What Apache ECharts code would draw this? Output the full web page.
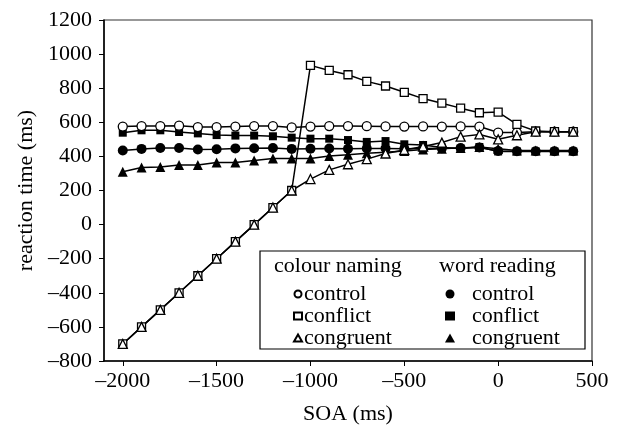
<!DOCTYPE html>
<html>
<head>
<meta charset="utf-8">
<script src="https://cdn.jsdelivr.net/npm/echarts@6/dist/echarts.min.js"></script>
<style>
html, body { margin: 0; padding: 0; background: #fff; }
#chart { width: 623px; height: 430px; }
</style>
</head>
<body>
<div id="chart"></div>
<script>
// SOA values (ms)
var soa = [-2000, -1900, -1800, -1700, -1600, -1500, -1400, -1300, -1200, -1100,
    -1000, -900, -800, -700, -600, -500, -400, -300, -200, -100, 0, 100, 200, 300, 400];

// colour naming
var cnControl = [575, 578, 578, 580, 572, 572, 575, 578, 578, 570,
    575, 578, 578, 577, 576, 575, 576, 575, 576, 575, 540, 540, 545, 545, 545];
var cnConflict = [-700, -600, -500, -400, -300, -200, -100, 0, 100, 200,
    934, 904, 879, 840, 813, 776, 739, 712, 683, 656, 660, 588, 549, 545, 545];
var cnCongruent = [-700, -600, -500, -400, -300, -200, -100, 0, 100, 200,
    267, 321, 354, 384, 417, 438, 458, 481, 516, 529, 500, 524, 545, 545, 545];

// word reading
var wrControl = [435, 444, 449, 449, 440, 442, 447, 448, 449, 444,
    445, 446, 445, 446, 447, 445, 447, 448, 449, 452, 432, 430, 430, 430, 430];
var wrConflict = [539, 553, 553, 543, 535, 525, 522, 522, 518, 510,
    504, 504, 496, 485, 490, 471, 467, 452, 446, 455, 429, 429, 429, 429, 429];
var wrCongruent = [310, 335, 338, 349, 349, 364, 364, 376, 388, 388,
    388, 403, 410, 418, 425, 432, 440, 445, 450, 455, 445, 435, 435, 435, 435];

var xTicks = [-2000, -1500, -1000, -500, 0, 500];

var font = 'Liberation Serif';
var fs = 22;

function pairs(ys) {
    return soa.map(function (x, i) { return [x, ys[i]]; });
}
function dash(v) {
    return String(v).replace('-', '\u2013');
}
function mk(name, data, symbol, size, filled) {
    return {
        name: name,
        type: 'line',
        data: pairs(data),
        symbol: symbol,
        symbolSize: size,
        showAllSymbol: true,
        lineStyle: { color: '#000', width: 1.5 },
        itemStyle: {
            color: filled ? '#000' : '#fff',
            borderColor: '#000',
            borderWidth: filled ? 0 : 1.3
        },
        emphasis: { disabled: true },
        animation: false
    };
}

var chart = echarts.init(document.getElementById('chart'));
var option = {
    backgroundColor: '#fff',
    animation: false,
    grid: {
        left: 104, right: 31, top: 20, bottom: 67,
        show: true, borderColor: '#333', borderWidth: 1.2
    },
    xAxis: {
        type: 'value',
        min: -2100,
        max: 500,
        name: 'SOA (ms)',
        nameLocation: 'middle',
        nameGap: 42,
        nameTextStyle: { fontFamily: font, fontSize: fs, color: '#000' },
        axisLine: { onZero: false, lineStyle: { color: '#000', width: 1.5 } },
        axisTick: { show: true, customValues: xTicks, length: 5, lineStyle: { color: '#000' } },
        axisLabel: {
            customValues: xTicks,
            margin: 9,
            fontFamily: font, fontSize: fs, color: '#000',
            formatter: dash
        },
        splitLine: { show: false }
    },
    yAxis: {
        type: 'value',
        min: -800,
        max: 1200,
        interval: 200,
        name: 'reaction time (ms)',
        nameLocation: 'middle',
        nameGap: 60,
        nameTextStyle: { fontFamily: font, fontSize: fs, color: '#000' },
        axisLine: { show: true, onZero: false, lineStyle: { color: '#000', width: 1.5 } },
        axisTick: { show: true, length: 5, lineStyle: { color: '#000' } },
        axisLabel: {
            margin: 12,
            fontFamily: font, fontSize: fs, color: '#000',
            formatter: dash
        },
        splitLine: { show: false }
    },
    legend: [
        {
            orient: 'vertical',
            left: 288, top: 278,
            z: 10,
            itemWidth: 8, itemHeight: 7, itemGap: 0,
            data: [
                { name: 'colour naming control', icon: 'circle' },
                { name: 'colour naming conflict', icon: 'rect' },
                { name: 'colour naming congruent', icon: 'triangle' }
            ],
            formatter: function (n) { return n.replace('colour naming ', ''); },
            textStyle: { fontFamily: font, fontSize: fs, lineHeight: 21.5, color: '#000', padding: [0, 0, 0, -3] },
            selectedMode: false
        },
        {
            orient: 'vertical',
            left: 440, top: 278,
            z: 10,
            itemWidth: 10, itemHeight: 9, itemGap: 0,
            data: [
                { name: 'word reading control', icon: 'circle' },
                { name: 'word reading conflict', icon: 'rect' },
                { name: 'word reading congruent', icon: 'triangle' }
            ],
            formatter: function (n) { return n.replace('word reading ', ''); },
            textStyle: { fontFamily: font, fontSize: fs, lineHeight: 21.5, color: '#000', padding: [0, 0, 0, 12] },
            selectedMode: false
        }
    ],
    graphic: [
        {
            type: 'rect',
            shape: { x: 260, y: 251, width: 325, height: 98 },
            style: { fill: '#fff', stroke: '#000', lineWidth: 1.2 },
            z: 5
        },
        {
            type: 'text', left: 274, top: 255, z: 6,
            style: { text: 'colour naming', fontFamily: font, fontSize: fs, fill: '#000' }
        },
        {
            type: 'text', left: 439, top: 255, z: 6,
            style: { text: 'word reading', fontFamily: font, fontSize: fs, fill: '#000' }
        }
    ],
    series: [
        mk('word reading conflict', wrConflict, 'rect', 8, true),
        mk('word reading congruent', wrCongruent, 'triangle', 10, true),
        mk('word reading control', wrControl, 'circle', 10, true),
        mk('colour naming control', cnControl, 'circle', 9, false),
        mk('colour naming conflict', cnConflict, 'rect', 8, false),
        mk('colour naming congruent', cnCongruent, 'triangle', 9, false)
    ]
};
chart.setOption(option);
</script>
</body>
</html>
